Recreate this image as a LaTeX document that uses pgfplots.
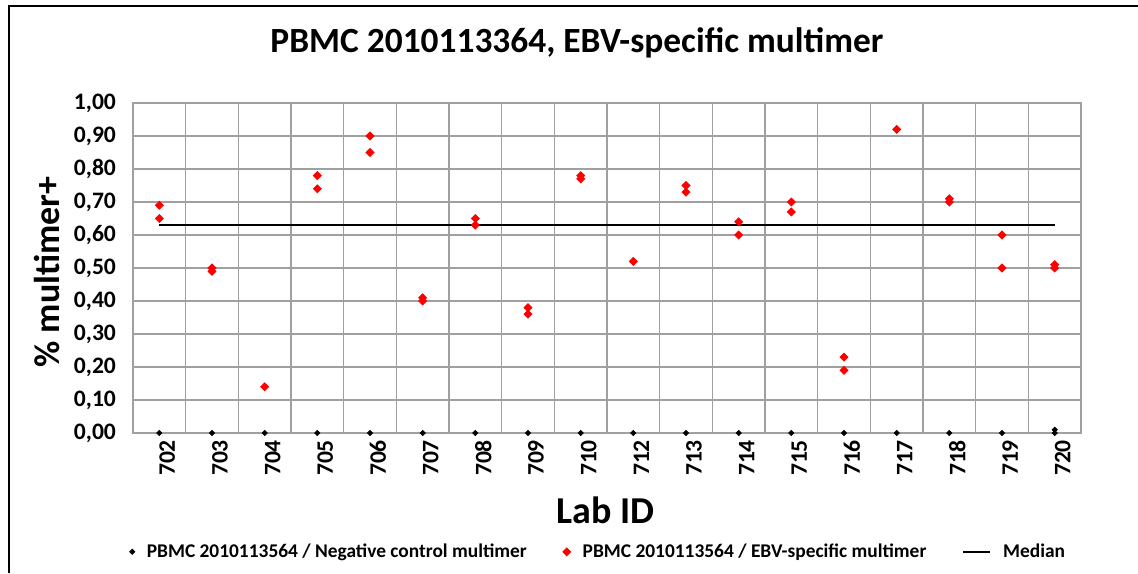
\documentclass[border=0pt]{standalone}
\usepackage{fontspec}
\setmainfont{Carlito}
\usepackage{pgfplots}
\pgfplotsset{compat=1.18}
\definecolor{gridgray}{RGB}{160,160,160}
\definecolor{exred}{RGB}{255,0,0}
\begin{document}
\begin{tikzpicture}
\useasboundingbox (0,0) rectangle (569pt,286.5pt);
\draw[line width=1pt] (4.5pt,0) -- (4.5pt,283.5pt) -- (569pt,283.5pt);
\node[anchor=base, font=\bfseries\fontsize{17.7}{20}\selectfont] at (288.5pt,260pt) {PBMC 2010113364, EBV-specific multimer};
\begin{axis}[
  at={(66.5pt,70pt)}, anchor=south west,
  width=474pt, height=165pt, scale only axis,
  xmin=-0.5, xmax=17.5, ymin=0, ymax=1,
  xtick={0,...,17},
  xticklabels={702,703,704,705,706,707,708,709,710,712,713,714,715,716,717,718,719,720},
  minor xtick={-0.5,0.5,...,17.5},
  ytick={0,0.1,0.2,0.3,0.4,0.5,0.6,0.7,0.8,0.9,1.0},
  yticklabels={{0,00},{0,10},{0,20},{0,30},{0,40},{0,50},{0,60},{0,70},{0,80},{0,90},{1,00}},
  major tick length=0pt, minor tick length=0pt,
  ymajorgrids, xminorgrids,
  grid style={gridgray, line width=0.6pt},
  minor grid style={gridgray, line width=0.6pt},
  axis line style={gridgray, line width=0.6pt},
  tick label style={font=\bfseries\fontsize{11.8}{13}\selectfont},
  yticklabel style={xshift=-5pt},
  xticklabel style={rotate=90, anchor=east, yshift=-4pt},
  xlabel={Lab ID},
  ylabel={\% multimer+},
  xlabel style={font=\bfseries\fontsize{19}{22}\selectfont, at={(axis description cs:0.498,-0.233)}, anchor=center},
  ylabel style={font=\bfseries\fontsize{18}{20}\selectfont, at={(axis description cs:-0.0907,0.488)}, anchor=center, rotate=0},
  legend columns=3,
  legend style={draw=none, fill=none, at={(axis description cs:0.492,-0.36)}, anchor=center,
    font=\bfseries\fontsize{9.7}{11}\selectfont,
    /tikz/every odd column/.append style={column sep=4pt},
    /tikz/every even column/.append style={column sep=16pt}},
  legend cell align=left,
  clip=false,
]
\addplot[only marks, mark=square*, mark size=0.9pt, mark options={rotate=45, fill=black, draw=black}] coordinates {
(0,0) (1,0) (2,0) (3,0) (4,0) (5,0) (6,0) (7,0) (8,0) (9,0) (10,0) (11,0) (12,0) (13,0) (14,0) (15,0) (16,0) (17,0) (17,0.01)
};
\addlegendentry{PBMC 2010113564 / Negative control multimer}
\addplot[only marks, mark=square*, mark size=1.4pt, mark options={rotate=45, fill=exred, draw=exred}] coordinates {
(0,0.69) (0,0.65)
(1,0.50) (1,0.49)
(2,0.14)
(3,0.78) (3,0.74)
(4,0.90) (4,0.85)
(5,0.41) (5,0.40)
(6,0.65) (6,0.63)
(7,0.38) (7,0.36)
(8,0.78) (8,0.77)
(9,0.52)
(10,0.75) (10,0.73)
(11,0.64) (11,0.60)
(12,0.70) (12,0.67)
(13,0.23) (13,0.19)
(14,0.92)
(15,0.71) (15,0.70)
(16,0.60) (16,0.50)
(17,0.51) (17,0.50)
};
\addlegendentry{PBMC 2010113564 / EBV-specific multimer}
\addplot[black, line width=0.9pt, legend image code/.code={\draw[black, line width=0.9pt] (4pt,0pt) -- (17.5pt,0pt);}] coordinates {(0,0.63) (17,0.63)};
\addlegendentry{Median}
\end{axis}
\end{tikzpicture}
\end{document}
